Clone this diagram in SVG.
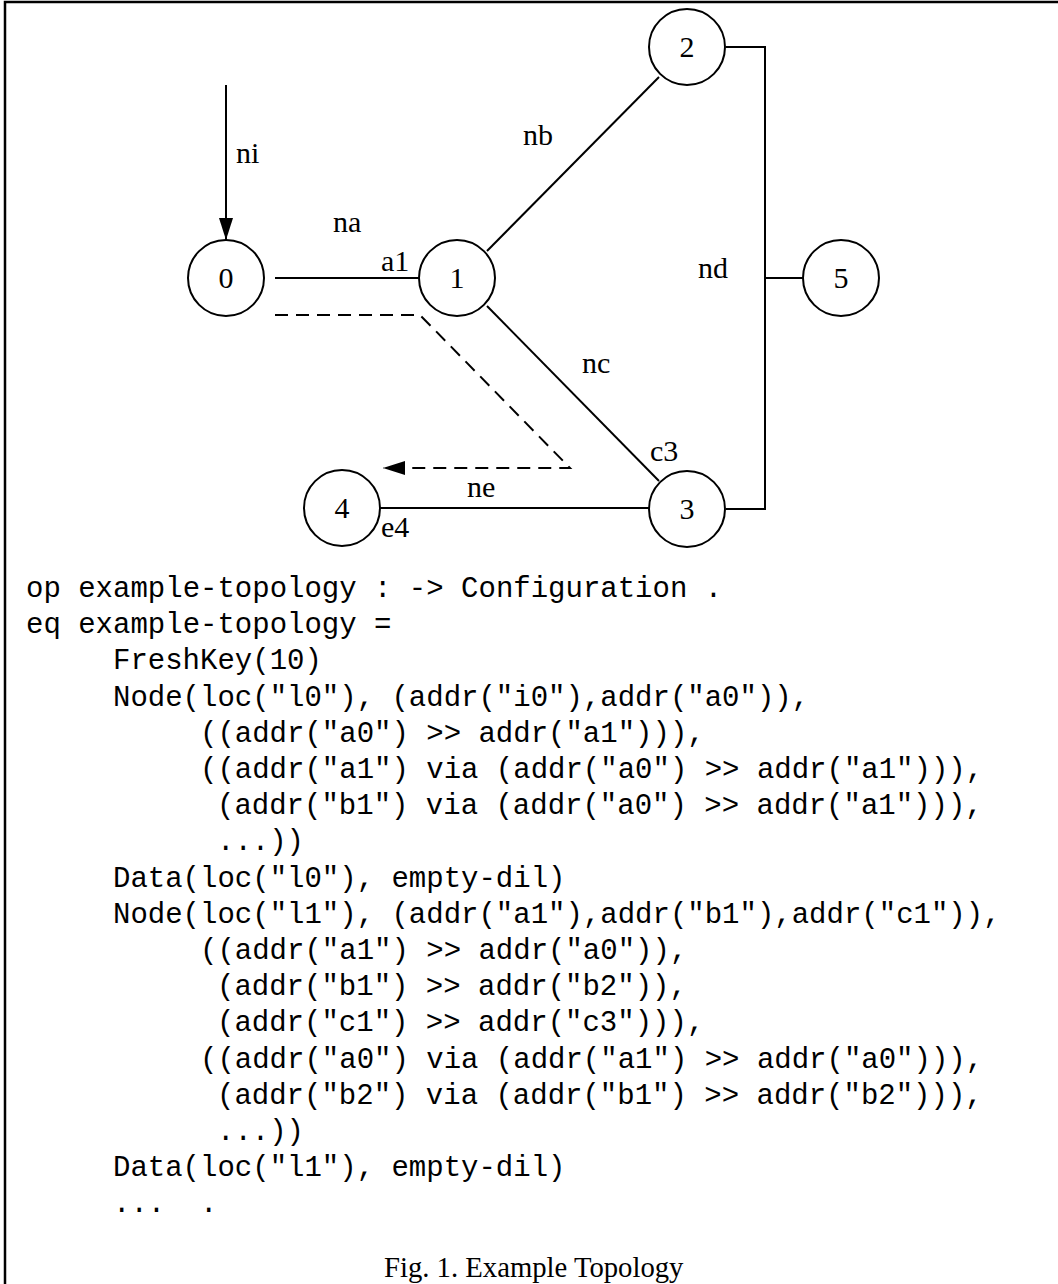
<svg xmlns="http://www.w3.org/2000/svg" width="1058" height="1284" viewBox="0 0 1058 1284">
<style>
.node circle{fill:#fff;stroke:#000;stroke-width:2}
.node text{font-family:"Liberation Serif","Times New Roman",serif;font-size:30px;text-anchor:middle;fill:#000}
.ln{fill:none;stroke:#000;stroke-width:2}
.dash{fill:none;stroke:#000;stroke-width:2;stroke-dasharray:13 8}
.lbl{font-family:"Liberation Serif","Times New Roman",serif;font-size:30px;fill:#000}
.code{font-family:"Liberation Mono","Courier New",monospace;font-size:29px;fill:#000}
.cap{font-family:"Liberation Serif","Times New Roman",serif;font-size:28.7px;fill:#000}
</style>
<defs>
<marker id="arr" viewBox="0 0 22 14" refX="22" refY="7" markerWidth="22" markerHeight="14" markerUnits="userSpaceOnUse" orient="auto">
<path d="M0,0 L22,7 L0,14 Z" fill="#000"/>
</marker>
</defs>
<rect width="1058" height="1284" fill="#fff"/>
<path d="M5,1300 V2 H1070" fill="none" stroke="#000" stroke-width="2.5"/>
<g id="connectors">
<line class="ln" x1="226" y1="85" x2="226" y2="240" marker-end="url(#arr)"/>
<line class="ln" x1="275" y1="278" x2="419" y2="278"/>
<line class="ln" x1="487" y1="251" x2="659" y2="77"/>
<line class="ln" x1="487" y1="306" x2="659" y2="481"/>
<path class="ln" d="M726,47 H765 V509 H726"/>
<line class="ln" x1="765" y1="278" x2="803" y2="278"/>
<line class="ln" x1="380" y1="508" x2="649" y2="508"/>
<path class="dash" d="M275,315 H420 L570,468 H383" marker-end="url(#arr)"/>
<text class="lbl" x="236" y="163">ni</text>
<text class="lbl" x="333" y="232">na</text>
<text class="lbl" x="381" y="271">a1</text>
<text class="lbl" x="523" y="145">nb</text>
<text class="lbl" x="698" y="278">nd</text>
<text class="lbl" x="582" y="373">nc</text>
<text class="lbl" x="650" y="461">c3</text>
<text class="lbl" x="467" y="497">ne</text>
<text class="lbl" x="381" y="537">e4</text>
</g>
<g id="node0" class="node"><circle cx="226" cy="278" r="38"/><text x="226" y="288">0</text></g>
<g id="node1" class="node"><circle cx="457" cy="278" r="38"/><text x="457" y="288">1</text></g>
<g id="node2" class="node"><circle cx="687" cy="47" r="38"/><text x="687" y="57">2</text></g>
<g id="node3" class="node"><circle cx="687" cy="509" r="38"/><text x="687" y="519">3</text></g>
<g id="node4" class="node"><circle cx="342" cy="508" r="38"/><text x="342" y="518">4</text></g>
<g id="node5" class="node"><circle cx="841" cy="278" r="38"/><text x="841" y="288">5</text></g>
<g id="code" class="code">
<text x="26" y="597">op example-topology : -&gt; Configuration .</text>
<text x="26" y="633.2">eq example-topology =</text>
<text x="113" y="669.4">FreshKey(10)</text>
<text x="113" y="705.6">Node(loc("l0"), (addr("i0"),addr("a0")),</text>
<text x="200" y="741.8">((addr("a0") &gt;&gt; addr("a1"))),</text>
<text x="200" y="778">((addr("a1") via (addr("a0") &gt;&gt; addr("a1"))),</text>
<text x="217" y="814.2">(addr("b1") via (addr("a0") &gt;&gt; addr("a1"))),</text>
<text x="217" y="850.4">...))</text>
<text x="113" y="886.6">Data(loc("l0"), empty-dil)</text>
<text x="113" y="922.8">Node(loc("l1"), (addr("a1"),addr("b1"),addr("c1")),</text>
<text x="200" y="959">((addr("a1") &gt;&gt; addr("a0")),</text>
<text x="217" y="995.2">(addr("b1") &gt;&gt; addr("b2")),</text>
<text x="217" y="1031.4">(addr("c1") &gt;&gt; addr("c3"))),</text>
<text x="200" y="1067.6">((addr("a0") via (addr("a1") &gt;&gt; addr("a0"))),</text>
<text x="217" y="1103.8">(addr("b2") via (addr("b1") &gt;&gt; addr("b2"))),</text>
<text x="217" y="1140">...))</text>
<text x="113" y="1176.2">Data(loc("l1"), empty-dil)</text>
<text x="113" y="1212.4">...<tspan x="200">.</tspan></text>
</g>
<text class="cap" x="384" y="1277">Fig. 1. Example Topology</text>
</svg>
